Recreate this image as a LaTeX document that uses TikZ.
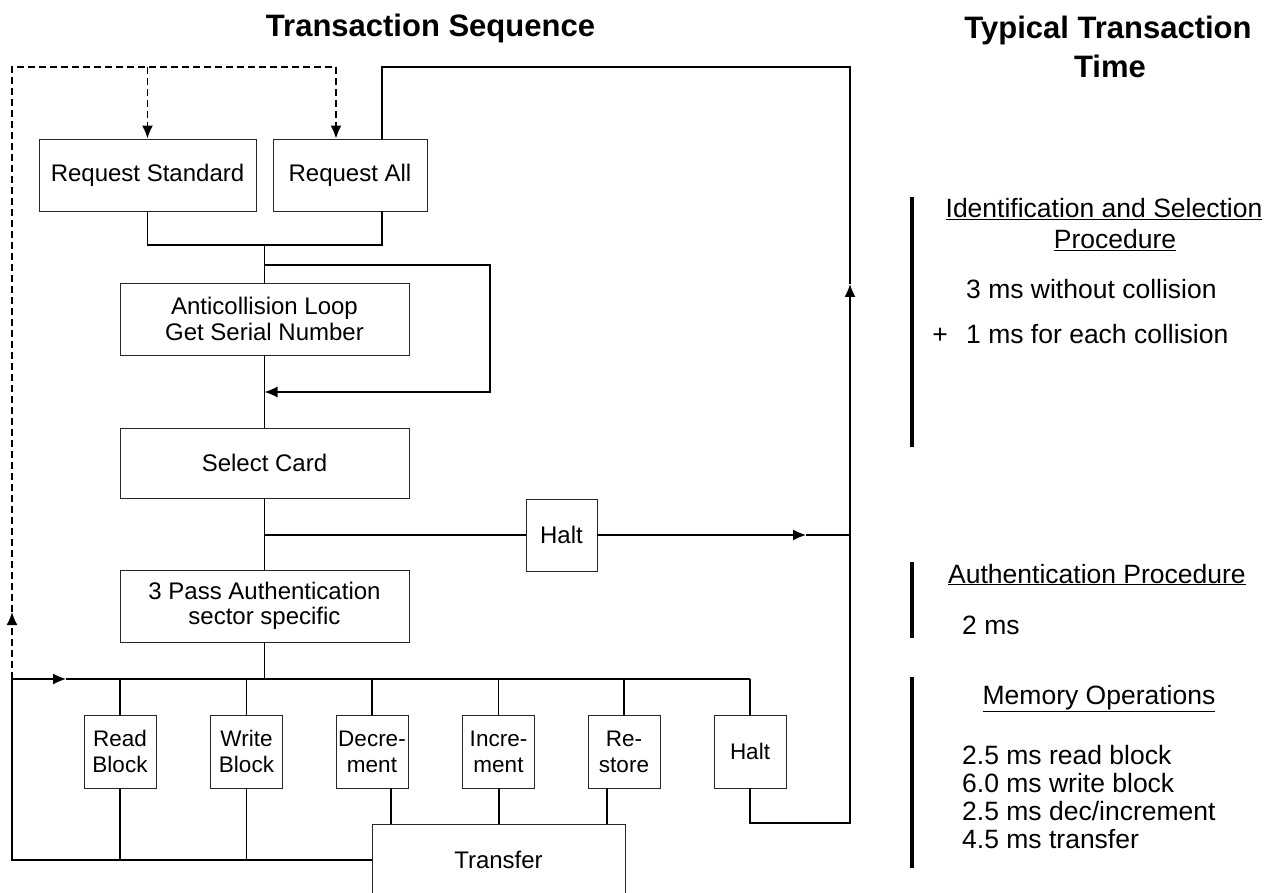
\documentclass[tikz,border=0pt]{standalone}
\usepackage{fontspec}
\setmainfont{Liberation Sans}
\usetikzlibrary{arrows.meta}
\begin{document}
\begin{tikzpicture}[x=1pt,y=-1pt,
  box/.style={draw=black!85, line width=0.9pt, fill=white, inner sep=0pt, align=center, font=\fontsize{24}{25.5}\selectfont},
  sbox/.style={box, minimum width=72pt, minimum height=73pt, font=\fontsize{22.5}{26}\selectfont},
  conn/.style={line width=1.3pt},
  tip/.style={-{Latex[length=13pt,width=11pt]}},
  dsh/.style={line width=1.7pt, dash pattern=on 7pt off 4pt},
  bar/.style={line width=4pt},
  rtext/.style={font=\fontsize{26.5}{28}\selectfont, inner sep=0pt},
  ttl/.style={font=\fontsize{31}{35}\selectfont\bfseries, inner sep=0pt}]
\clip (0,0) rectangle (1270,893);
% boxes
\node[box, minimum width=217pt, minimum height=72pt] (rs) at (147.5,175) {Request Standard};
\node[box, minimum width=154pt, minimum height=72pt] (ra) at (350,175) {Request All};
\node[box, minimum width=289pt, minimum height=72pt] (ac) at (264.5,319) {Anticollision Loop\\Get Serial Number};
\node[box, minimum width=289pt, minimum height=70pt] (sc) at (264.5,463) {Select Card};
\node[box, minimum width=71pt, minimum height=72pt] (h1) at (561.5,535) {Halt};
\node[box, minimum width=289pt, minimum height=72pt] (pa) at (264.5,606) {3 Pass Authentication\\sector specific};
\node[sbox] (rb) at (120,751.5) {Read\\Block};
\node[sbox] (wb) at (246.5,751.5) {Write\\Block};
\node[sbox] (db) at (372,751.5) {Decre-\\ment};
\node[sbox] (ib) at (498.5,751.5) {Incre-\\ment};
\node[sbox] (sb) at (624,751.5) {Re-\\store};
\node[sbox] (hb) at (750,751.5) {Halt};
\node[box, minimum width=253pt, minimum height=72pt] (tr) at (498.5,860) {Transfer};
% coordinates
\coordinate (dTL) at (12,67);
\coordinate (dS) at (147.5,67);
\coordinate (dA) at (336,67);
\coordinate (aUp) at (12,612);
\coordinate (bus0) at (12,679);
\coordinate (busA) at (264.5,679);
\coordinate (busE) at (750,679);
\coordinate (aB) at (66,679);
\coordinate (b0) at (12,860);
\coordinate (j2) at (382,245);
\coordinate (jm) at (264.5,245);
\coordinate (l1) at (264.5,265);
\coordinate (l2) at (490,265);
\coordinate (l3) at (490,392);
\coordinate (l4) at (264.5,392);
\coordinate (r0) at (382,67);
\coordinate (r1) at (850,67);
\coordinate (r2) at (850,823);
\coordinate (aR) at (850,284);
\coordinate (hj) at (264.5,535);
\coordinate (aH) at (806,535);
\coordinate (he) at (850,535);
\coordinate (xd) at (391,0);
\coordinate (xi) at (499,0);
\coordinate (xs) at (607,0);
% dashed return path
\draw[dsh,tip] (bus0) -- (aUp);
\draw[dsh] (aUp) -- (dTL) -- (dA);
\draw[dsh,tip] (dA) -- (ra.north -| dA);
\draw[dsh,tip] (dS) -- (rs.north);
% top joins
\draw[conn] (rs.south) |- (j2) -- (ra.south -| j2);
\draw[conn] (jm) -- (ac.north);
\draw[conn,tip] (l1) -- (l2) -- (l3) -- (l4);
\draw[conn] (ac.south) -- (sc.north);
\draw[conn] (sc.south) -- (pa.north);
% halt 1
\draw[conn] (hj) -- (h1.west);
\draw[conn,tip] (h1.east) -- (aH);
\draw[conn] (aH) -- (he);
% right return path
\draw[conn,tip] (hb.south) |- (r2) -- (aR);
\draw[conn] (aR) -- (r1) -| (ra.north -| r0);
% bus
\draw[conn] (pa.south) -- (busA);
\draw[conn,tip] (bus0) -- (aB);
\draw[conn] (aB) -- (busE);
\foreach \n in {rb,wb,db,ib,sb,hb} {\draw[conn] (\n.north |- bus0) -- (\n.north);}
% bottom
\draw[conn] (bus0) -- (b0) -- (tr.west);
\draw[conn] (rb.south) -- (rb.south |- b0);
\draw[conn] (wb.south) -- (wb.south |- b0);
\draw[conn] (db.south -| xd) -- (tr.north -| xd);
\draw[conn] (ib.south -| xi) -- (tr.north -| xi);
\draw[conn] (sb.south -| xs) -- (tr.north -| xs);
% titles
\node[ttl, anchor=base] (t1) at (430.5,37) {Transaction Sequence};
\node[ttl, anchor=base] (t2) at (1108,39) {Typical Transaction};
\node[ttl, anchor=base] (t3) at (1110,78) {Time};
% right column
\draw[bar] (912,197) -- (912,447);
\draw[bar] (912,562) -- (912,638);
\draw[bar] (912,677) -- (912,868);
\node[rtext, anchor=base] (i1) at (1104,218) {\underline{Identification and Selection}};
\node[rtext, anchor=base] (i2) at (1115,249) {\underline{Procedure}};
\node[rtext, anchor=base west] (i3) at (966,299) {3 ms without collision};
\node[rtext, anchor=base] (i4p) at (940,344) {+};
\node[rtext, anchor=base west] (i4) at (966,344) {1 ms for each collision};
\node[rtext, anchor=base west] (a1) at (948,583) {\underline{Authentication Procedure}};
\node[rtext, anchor=base west] (a2) at (962,634) {2 ms};
\node[rtext, anchor=base] (m1) at (1099,704) {\underline{Memory Operations}};
\node[rtext, anchor=base west] (m2) at (962,764) {2.5 ms read block};
\node[rtext, anchor=base west] (m3) at (962,792) {6.0 ms write block};
\node[rtext, anchor=base west] (m4) at (962,820) {2.5 ms dec/increment};
\node[rtext, anchor=base west] (m5) at (962,848) {4.5 ms transfer};
\end{tikzpicture}
\end{document}
